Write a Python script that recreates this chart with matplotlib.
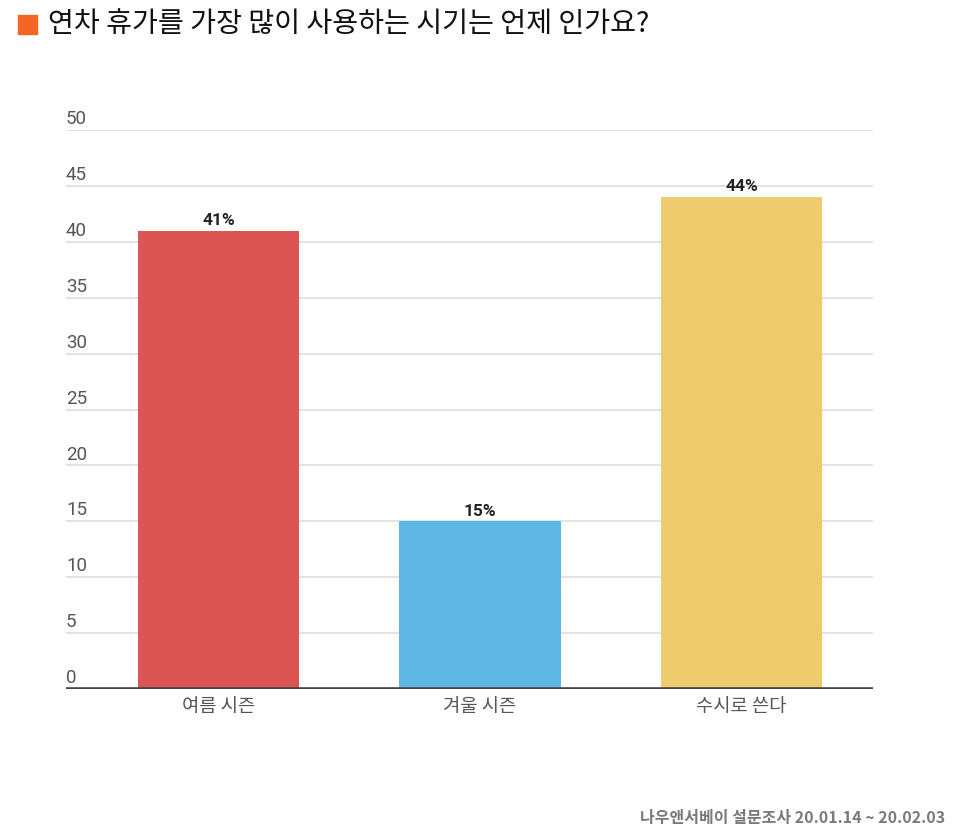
import matplotlib.pyplot as plt
import matplotlib.transforms as mtransforms
from matplotlib.patches import Rectangle

plt.rcParams['font.family'] = ['Noto Sans CJK KR', 'DejaVu Sans']

# data
categories = ['여름 시즌', '겨울 시즌', '수시로 쓴다']
values = [41, 15, 44]
value_labels = ['41%', '15%', '44%']
colors = ['#DC5555', '#5EB6E4', '#EECB6C']
yticks = [0, 5, 10, 15, 20, 25, 30, 35, 40, 45, 50]

W, H = 964, 839
fig = plt.figure(figsize=(W / 100, H / 100), dpi=100)

# axes placed in pixel coords
left, right, bottom, top = 66, 873, 689, 130
ax = fig.add_axes([left / W, 1 - bottom / H, (right - left) / W, (bottom - top) / H])

x = list(range(len(categories)))
ax.bar(x, values, width=0.616, color=colors, zorder=3)
ax.set_xlim(-0.583, 2.503)
ax.set_ylim(0, 50)

for xi, v, lab in zip(x, values, value_labels):
    ax.annotate(lab, (xi, v), xytext=(0, 2), textcoords='offset points',
                ha='center', va='bottom', fontsize=12.5, fontweight='bold',
                color='#222222', family=['Roboto', 'DejaVu Sans'])

# gridlines
for t in yticks[1:]:
    ax.axhline(t, color='#E3E3E3', lw=1.5, zorder=1)
ax.axhline(0, color='#444444', lw=2.6, zorder=4)

# y tick labels sit above the gridlines, left aligned
ax.set_yticks([])
trans = mtransforms.blended_transform_factory(ax.transAxes, ax.transData)
for t in yticks:
    ax.annotate(str(t), (0, t), xycoords=trans, xytext=(0, 1.3),
                textcoords='offset points', ha='left', va='bottom',
                fontsize=13.5, color='#555555', family=['Roboto', 'DejaVu Sans'])

ax.set_xticks(x)
ax.set_xticklabels(categories, fontsize=13.5, color='#555555')
ax.tick_params(axis='x', length=0, pad=5)
for s in ax.spines.values():
    s.set_visible(False)

# title with orange square
fig.patches.append(Rectangle((18 / W, 1 - 34 / H), 19 / W, 19 / H,
                             transform=fig.transFigure, color='#F26522'))
fig.text(48 / W, 1 - 24 / H, '연차 휴가를 가장 많이 사용하는 시기는 언제 인가요?',
         fontsize=20.3, color='#111111', va='center', ha='left')

# footer
fig.text(945 / W, 1 - 818 / H, '나우앤서베이 설문조사 20.01.14 ~ 20.02.03',
         fontsize=11.5, fontweight='bold', color='#7A7A7A', ha='right', va='center')

fig.savefig('out.png', dpi=100, facecolor='white')
